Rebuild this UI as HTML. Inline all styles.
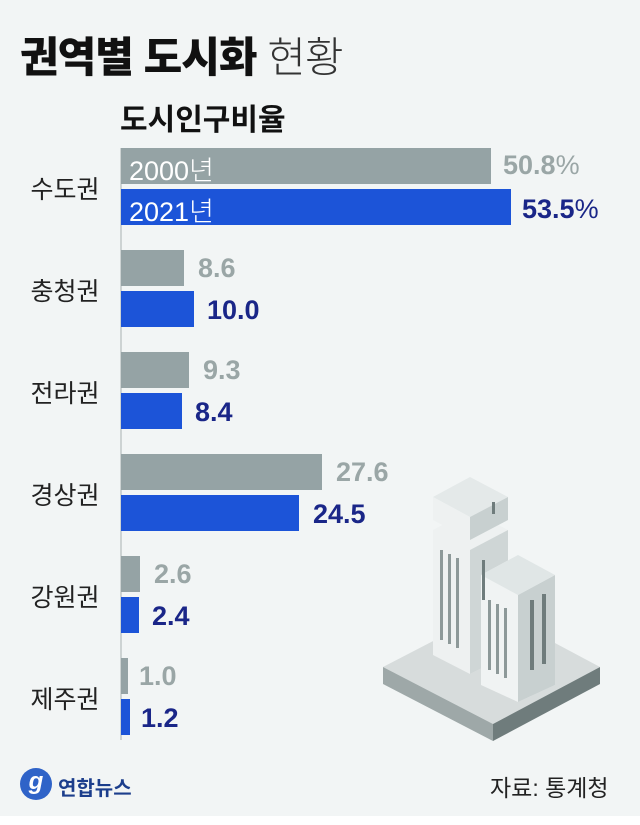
<!DOCTYPE html>
<html><head><meta charset="utf-8"><style>
body{margin:0;width:640px;height:825px;background:#f2f5f5;position:relative;overflow:hidden;font-family:"Liberation Sans","Noto Sans CJK KR",sans-serif}
.a{position:absolute;white-space:nowrap}
.g{background:#95a3a5}.b{background:#1c54d8}
.gv{color:#9aa6a6;font-weight:bold;font-size:27px}
.bv{color:#1a2688;font-weight:bold;font-size:27px}
.cat{font-size:25px;color:#222;width:110px;text-align:center;left:10px}
</style></head><body>
<div class="a" style="left:20px;top:24px;font-size:42px;font-weight:900;color:#111;letter-spacing:-1px">권역별 도시화 <span style="font-weight:300;color:#333">현황</span></div>
<div class="a" style="left:120px;top:95px;font-size:30px;font-weight:bold;color:#111">도시인구비율</div>
<div class="a" style="left:120px;top:148px;width:2px;height:592px;background:#cdd3d3"></div>

<div class="a g" style="left:121px;top:148px;width:370px;height:36px"></div>
<div class="a" style="left:129px;top:149px;font-size:27px;color:#fff;font-weight:300">2000년</div>
<div class="a gv" style="left:503px;top:150px">50.8<span style="font-weight:normal">%</span></div>
<div class="a b" style="left:121px;top:189px;width:390px;height:36px"></div>
<div class="a" style="left:129px;top:190px;font-size:27px;color:#fff;font-weight:300">2021년</div>
<div class="a bv" style="left:522px;top:194px">53.5<span style="font-weight:normal">%</span></div>
<div class="a cat" style="top:170px">수도권</div>

<div class="a g" style="left:121px;top:250px;width:63px;height:36px"></div>
<div class="a gv" style="left:198px;top:253px">8.6</div>
<div class="a b" style="left:121px;top:291px;width:73px;height:36px"></div>
<div class="a bv" style="left:207px;top:295px">10.0</div>
<div class="a cat" style="top:272px">충청권</div>

<div class="a g" style="left:121px;top:352px;width:68px;height:36px"></div>
<div class="a gv" style="left:203px;top:355px">9.3</div>
<div class="a b" style="left:121px;top:393px;width:61px;height:36px"></div>
<div class="a bv" style="left:195px;top:397px">8.4</div>
<div class="a cat" style="top:374px">전라권</div>

<div class="a g" style="left:121px;top:454px;width:201px;height:36px"></div>
<div class="a gv" style="left:336px;top:457px">27.6</div>
<div class="a b" style="left:121px;top:495px;width:178px;height:36px"></div>
<div class="a bv" style="left:313px;top:499px">24.5</div>
<div class="a cat" style="top:476px">경상권</div>

<div class="a g" style="left:121px;top:556px;width:19px;height:36px"></div>
<div class="a gv" style="left:154px;top:559px">2.6</div>
<div class="a b" style="left:121px;top:597px;width:18px;height:36px"></div>
<div class="a bv" style="left:152px;top:601px">2.4</div>
<div class="a cat" style="top:578px">강원권</div>

<div class="a g" style="left:121px;top:658px;width:7px;height:36px"></div>
<div class="a gv" style="left:139px;top:661px">1.0</div>
<div class="a b" style="left:121px;top:699px;width:9px;height:36px"></div>
<div class="a bv" style="left:141px;top:703px">1.2</div>
<div class="a cat" style="top:680px">제주권</div>

<svg class="a" style="left:360px;top:460px" width="280" height="300" viewBox="0 0 280 300">
<polygon points="23,207 133,150 240,207 133,264" fill="#d7dcdc"/>
<polygon points="23,207 133,264 133,281 23,224" fill="#9ea8a8"/>
<polygon points="133,264 240,207 240,224 133,281" fill="#6f7c7c"/>
<polygon points="73,70 110,50 148,70 148,195 110,214 73,195" fill="#eef1f1"/>
<polygon points="110,90 148,70 148,195 110,214" fill="#cfd6d6"/>
<polygon points="73,37 110,17 148,37 110,57" fill="#e4e9e9"/>
<polygon points="73,37 110,57 110,80 73,60" fill="#eef1f1"/>
<polygon points="110,57 148,37 148,60 110,80" fill="#c8d0d0"/>
<polygon points="121,115 158,95 195,115 195,225 158,242 121,225" fill="#f0f3f3"/>
<polygon points="158,135 195,115 195,225 158,242" fill="#c8d0d0"/>
<polygon points="121,115 158,95 195,115 158,135" fill="#e0e6e6"/>
<g fill="#8d9999"><rect x="128" y="140" width="3" height="70"/><rect x="136" y="144" width="3" height="70"/><rect x="144" y="148" width="3" height="70"/><rect x="80" y="90" width="3" height="90"/><rect x="88" y="94" width="3" height="90"/><rect x="96" y="98" width="3" height="90"/></g>
<g fill="#6f7c7c"><rect x="170" y="140" width="4" height="70"/><rect x="182" y="134" width="4" height="70"/><rect x="122" y="100" width="3" height="40"/><rect x="132" y="42" width="3" height="12"/></g>
</svg>

<div class="a" style="left:20px;top:768px;width:32px;height:32px;border-radius:50%;background:#2f63c8;color:#fff;font-style:italic;font-weight:bold;font-size:24px;text-align:center;line-height:28px">g</div>
<div class="a" style="left:58px;top:772px;font-size:20px;font-weight:bold;color:#1c3e8c">연합뉴스</div>
<div class="a" style="left:490px;top:769px;font-size:23px;color:#222">자료: 통계청</div>
<div class="a" style="left:0;top:816px;width:640px;height:9px;background:#fff"></div>
</body></html>
